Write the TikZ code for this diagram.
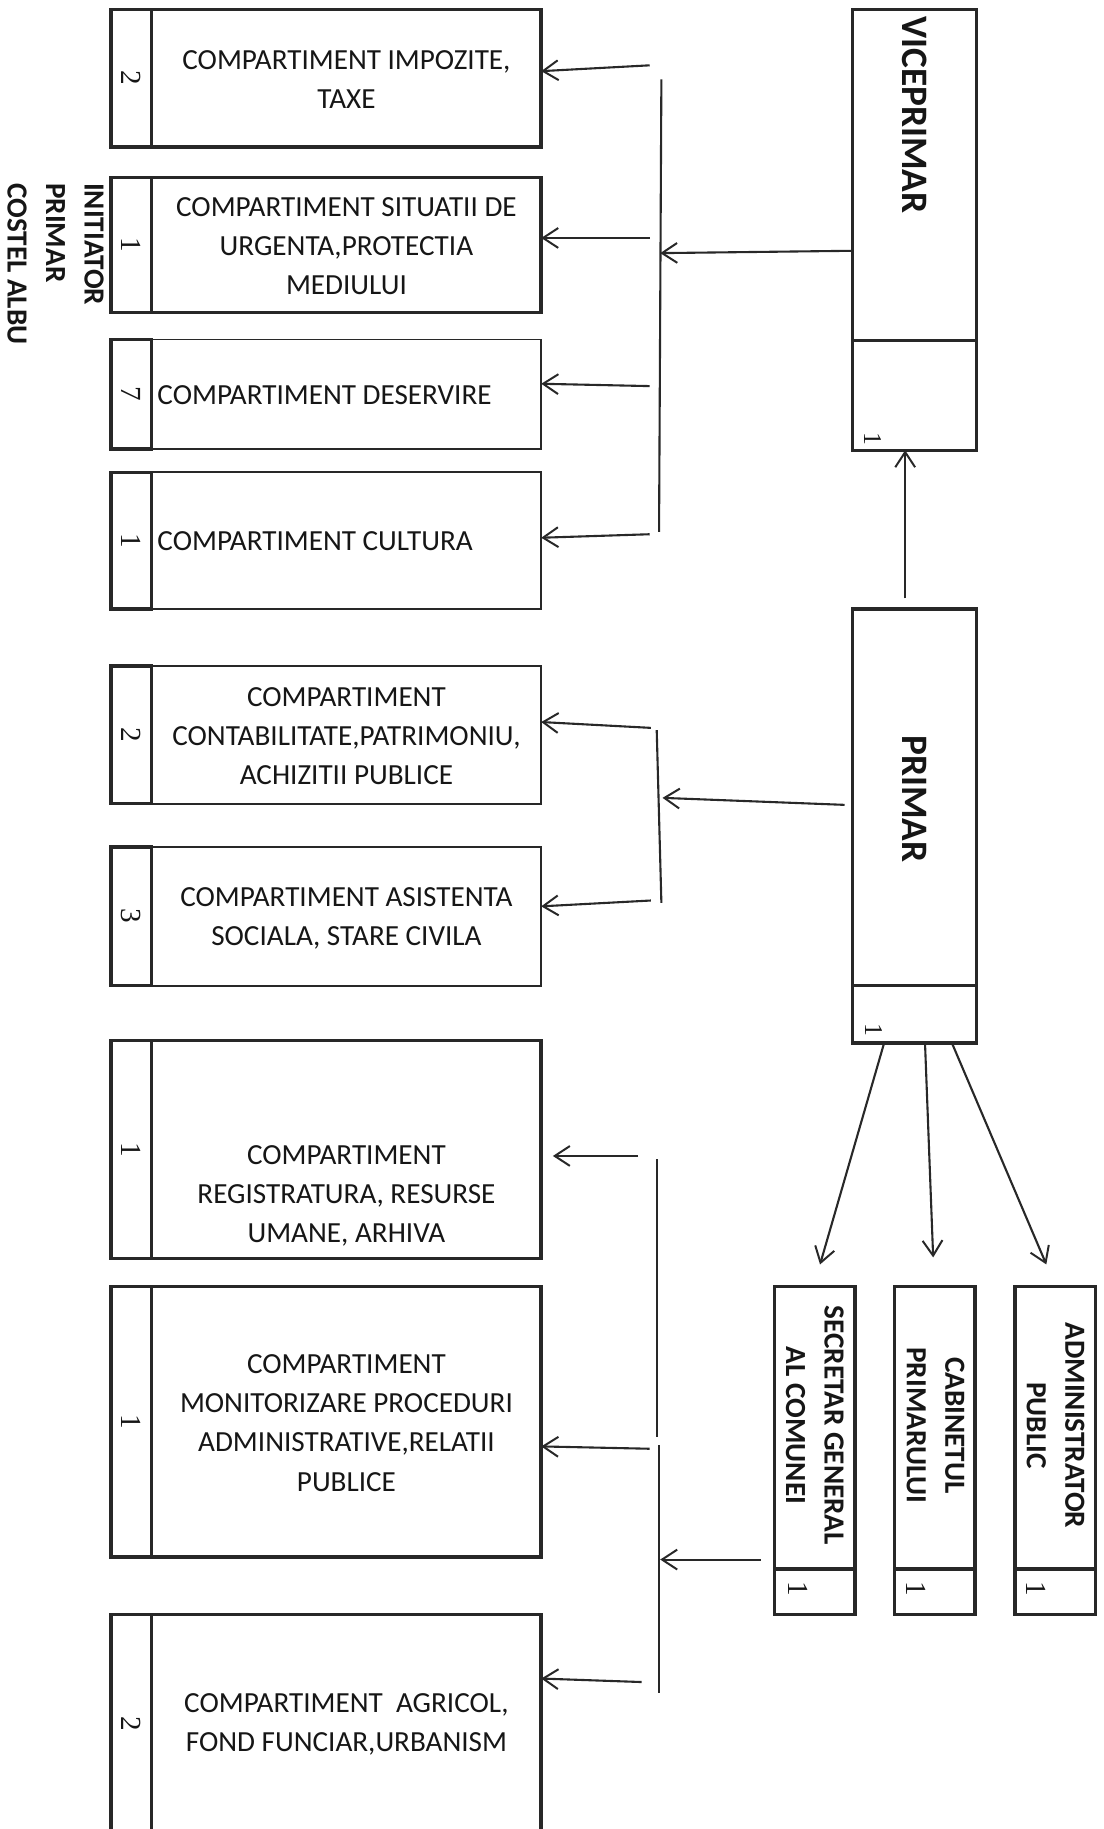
\documentclass[tikz,border=0pt]{standalone}
\usepackage{fontspec}
\setmainfont{Carlito}
\newfontfamily\numfont{Liberation Serif}
\usetikzlibrary{arrows.meta}
\definecolor{ink}{RGB}{40,40,40}
\definecolor{txt}{RGB}{22,22,22}
\begin{document}
\begin{tikzpicture}[x=1pt,y=-1pt,
  every node/.style={inner sep=0pt,outer sep=0pt,text=txt},
  boxA/.style={draw=ink,line width=3pt},
  boxB/.style={draw=ink,line width=1.6pt},
  lbl/.style={font=\fontsize{25}{33.5}\selectfont,align=center},
  numlbl/.style={font=\numfont\fontsize{25}{25}\selectfont,rotate=-90},
  ttl/.style={font=\bfseries\fontsize{25}{33}\selectfont,align=center,rotate=-90},
  bigttl/.style={font=\bfseries\fontsize{32}{32}\selectfont,rotate=-90},
  conn/.style={draw=ink,line width=1.8pt},
  arr/.style={conn,-{Straight Barb[length=13pt,width=17pt,line width=1.7pt]}},
]
\useasboundingbox (0,0) rectangle (946,1568);
\fill[white] (0,0) rectangle (946,1568);

% ---------- left column boxes ----------
\node[boxA,minimum width=334pt,minimum height=118pt] (b1) at (297,67) {};
\node[boxA,minimum width=35pt,minimum height=118pt] (n1) at (112.5,67) {};
\node[numlbl] (d1) at (n1) {2};
\node[lbl] (t1) at (297,68) {COMPARTIMENT IMPOZITE,\\TAXE};

\node[boxA,minimum width=334pt,minimum height=116pt] (b2) at (297,210) {};
\node[boxA,minimum width=35pt,minimum height=116pt] (n2) at (112.5,210) {};
\node[numlbl] (d2) at (n2) {1};
\node[lbl] (t2) at (297,211) {COMPARTIMENT SITUATII DE\\URGENTA,PROTECTIA\\MEDIULUI};

\node[boxB,minimum width=334pt,minimum height=94pt] (b3) at (297,338) {};
\node[boxA,minimum width=35pt,minimum height=94pt] (n3) at (112.5,338) {};
\node[numlbl] (d3) at (n3) {7};
\node[lbl,anchor=west] (t3) at (135,339) {COMPARTIMENT DESERVIRE};

\node[boxB,minimum width=334pt,minimum height=117pt] (b4) at (297,463.5) {};
\node[boxA,minimum width=35pt,minimum height=117pt] (n4) at (112.5,463.5) {};
\node[numlbl] (d4) at (n4) {1};
\node[lbl,anchor=west] (t4) at (135,464) {COMPARTIMENT CULTURA};

\node[boxB,minimum width=334pt,minimum height=118pt] (b5) at (297,630) {};
\node[boxA,minimum width=35pt,minimum height=118pt] (n5) at (112.5,630) {};
\node[numlbl] (d5) at (n5) {2};
\node[lbl] (t5) at (297,631) {COMPARTIMENT\\CONTABILITATE,PATRIMONIU,\\ACHIZITII PUBLICE};

\node[boxB,minimum width=334pt,minimum height=119pt] (b6) at (297,785.5) {};
\node[boxA,minimum width=35pt,minimum height=119pt] (n6) at (112.5,785.5) {};
\node[numlbl] (d6) at (n6) {3};
\node[lbl] (t6) at (297,787) {COMPARTIMENT ASISTENTA\\SOCIALA, STARE CIVILA};

\node[boxA,minimum width=334pt,minimum height=187pt] (b7) at (297,985.5) {};
\node[boxA,minimum width=35pt,minimum height=187pt] (n7) at (112.5,985.5) {};
\node[numlbl] (d7) at (n7) {1};
\node[lbl] (t7) at (297,1025) {COMPARTIMENT\\REGISTRATURA, RESURSE\\UMANE, ARHIVA};

\node[boxA,minimum width=334pt,minimum height=232pt] (b8) at (297,1219) {};
\node[boxA,minimum width=35pt,minimum height=232pt] (n8) at (112.5,1219) {};
\node[numlbl] (d8) at (n8) {1};
\node[lbl] (t8) at (297,1220) {COMPARTIMENT\\MONITORIZARE PROCEDURI\\ADMINISTRATIVE,RELATII\\PUBLICE};

\node[boxA,minimum width=334pt,minimum height=236pt] (b9) at (297,1502) {};
\node[boxA,minimum width=35pt,minimum height=236pt] (n9) at (112.5,1502) {};
\node[numlbl] (d9) at (112.5,1478) {2};
\node[lbl] (t9) at (297,1478) {COMPARTIMENT~ AGRICOL,\\FOND FUNCIAR,URBANISM};

% ---------- initiator ----------
\node[ttl,align=left,anchor=north west] (init) at (89,157) {INITIATOR\\PRIMAR\\COSTEL ALBU};

% ---------- viceprimar / primar ----------
\node[boxA,minimum width=106pt,minimum height=378pt] (vp) at (784,197) {};
\draw[boxA] (vp.west |- 0,292) -- (vp.east |- 0,292);
\node[bigttl,anchor=west] (vpt) at (784,14) {VICEPRIMAR};
\node[numlbl,font=\numfont\fontsize{22}{22}\selectfont] (vp1) at (748,376) {1};

\node[boxA,minimum width=106pt,minimum height=372pt] (pr) at (784,708) {};
\draw[boxA] (pr.west |- 0,845) -- (pr.east |- 0,845);
\node[bigttl] (prt) at (784,685) {PRIMAR};
\node[numlbl,font=\numfont\fontsize{22}{22}\selectfont] (pr1) at (749,883) {1};

% ---------- small boxes ----------
\node[boxA,minimum width=69pt,minimum height=281pt] (sg) at (698.5,1243.5) {};
\draw[boxA] (sg.west |- 0,1345) -- (sg.east |- 0,1345);
\node[ttl] (sgt) at (698.5,1222) {SECRETAR GENERAL\\AL COMUNEI};
\node[numlbl] (sg1) at (684,1362) {1};

\node[boxA,minimum width=69pt,minimum height=281pt] (cp) at (801.5,1243.5) {};
\draw[boxA] (cp.west |- 0,1345) -- (cp.east |- 0,1345);
\node[ttl] (cpt) at (802,1222) {CABINETUL\\PRIMARULUI};
\node[numlbl] (cp1) at (785,1362) {1};

\node[boxA,minimum width=69pt,minimum height=281pt] (ap) at (904.5,1243.5) {};
\draw[boxA] (ap.west |- 0,1345) -- (ap.east |- 0,1345);
\node[ttl] (apt) at (905,1222) {ADMINISTRATOR\\PUBLIC};
\node[numlbl] (ap1) at (888,1362) {1};

% ---------- connectors: group 1 ----------
\coordinate (bus1a) at (567,68);
\coordinate (bus1b) at (565,456);
\draw[conn] (bus1a) -- (bus1b);
\coordinate (v1) at (566,217);
\draw[arr] (vp.west |- 0,215) -- (v1);
\coordinate (s1) at (557,56);
\coordinate (s2) at (557,204);
\coordinate (s3) at (557,331);
\coordinate (s4) at (557,458);
\draw[arr] (s1) -- (b1.east |- 0,61);
\draw[arr] (s2) -- (b2.east |- 0,204);
\draw[arr] (s3) -- (b3.east |- 0,329);
\draw[arr] (s4) -- (b4.east |- 0,461);

% primar -> viceprimar
\coordinate (pv) at (776,513);
\draw[arr] (pv) -- (vp.south -| pv);

% ---------- group 2 ----------
\coordinate (bus2a) at (563,626);
\coordinate (bus2b) at (567,774);
\draw[conn] (bus2a) -- (bus2b);
\coordinate (pw) at (724,690);
\coordinate (v2) at (568,684);
\draw[arr] (pw) -- (v2);
\coordinate (s5) at (558,624);
\coordinate (s6) at (558,772);
\draw[arr] (s5) -- (b5.east |- 0,619);
\draw[arr] (s6) -- (b6.east |- 0,777);

% ---------- primar -> small boxes ----------
\coordinate (e1) at (703,1084);
\coordinate (e2) at (800,1078);
\coordinate (e3) at (897,1084);
\draw[arr] (pr.south -| 758,0) -- (e1);
\draw[arr] (pr.south -| 793,0) -- (e2);
\draw[arr] (pr.south -| 816,0) -- (e3);

% ---------- group 3 ----------
\coordinate (bus3a) at (563,994);
\coordinate (bus3b) at (563,1232);
\coordinate (bus3c) at (565,1239);
\coordinate (bus3d) at (565,1451);
\draw[conn] (bus3a) -- (bus3b);
\draw[conn] (bus3c) -- (bus3d);
\coordinate (sw) at (652,1337);
\coordinate (v3) at (566,1337);
\draw[arr] (sw) -- (v3);
\coordinate (s7) at (547,991);
\coordinate (e7) at (474,991);
\coordinate (s8) at (557,1242);
\coordinate (s9) at (550,1442);
\draw[arr] (s7) -- (e7);
\draw[arr] (s8) -- (b8.east |- 0,1240);
\draw[arr] (s9) -- (b9.east |- 0,1439);
\end{tikzpicture}
\end{document}
